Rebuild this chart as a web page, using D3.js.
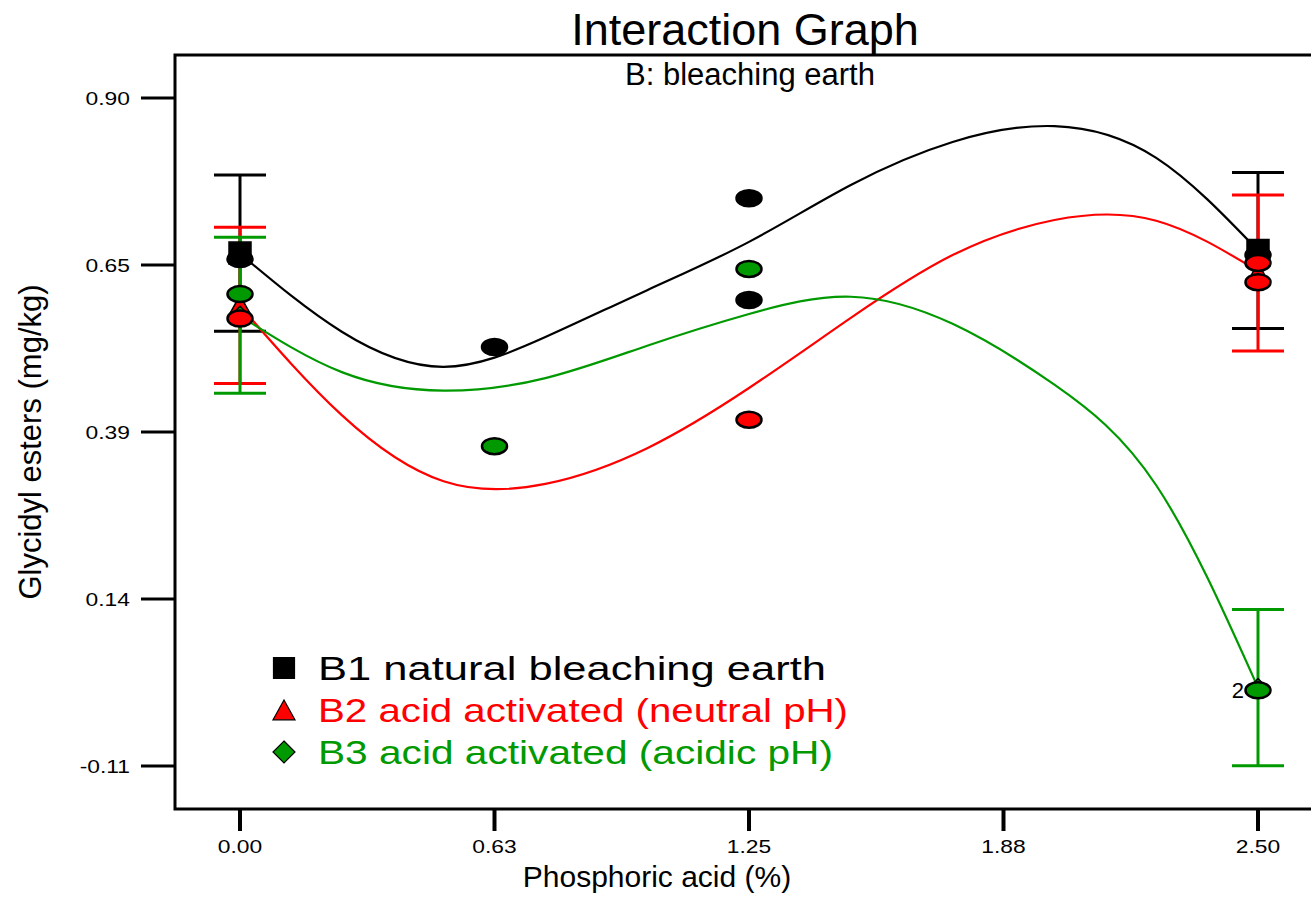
<!DOCTYPE html>
<html>
<head>
<meta charset="utf-8">
<script src="https://cdn.jsdelivr.net/npm/d3@7"></script>
<style>
  html, body { margin: 0; padding: 0; background: #fff; }
  svg { display: block; font-family: "Liberation Sans", Arial, sans-serif; }
</style>
</head>
<body>
<svg id="chart" width="1311" height="920"></svg>
<script>
// ---------- data ----------
const xTickValues = [0, 0.625, 1.25, 1.875, 2.5];
const xTickLabels = ["0.00", "0.63", "1.25", "1.88", "2.50"];
const yTickValues = [-0.1125, 0.14, 0.3925, 0.645, 0.8975];
const yTickLabels = ["-0.11", "0.14", "0.39", "0.65", "0.90"];

const seriesNames = ["B1 natural bleaching earth", "B2 acid activated (neutral pH)", "B3 acid activated (acidic pH)"];
const seriesColors = ["#000000", "#ff0000", "#009a00"];

// fitted model curves, read at these x positions
const curveX = [0, 0.25, 0.5, 0.75, 1.0, 1.25, 1.5, 1.75, 2.0, 2.25, 2.5];
const b1Curve = [0.662, 0.544, 0.491, 0.536, 0.607, 0.680, 0.766, 0.831, 0.855, 0.807, 0.667];
const b2Curve = [0.583, 0.418, 0.318, 0.314, 0.368, 0.459, 0.565, 0.660, 0.713, 0.712, 0.636];
const b3Curve = [0.568, 0.483, 0.455, 0.474, 0.523, 0.571, 0.597, 0.556, 0.464, 0.312, 0.006];

// predicted means with LSD bars
const meanX = [0, 2.5];
const b1Mean = [0.663, 0.667];
const b2Mean = [0.584, 0.633];
const b3Mean = [0.569, 0.006];
const lsdHalf = 0.118;

// design (actual) points
const b1PtsX = [0, 0.625, 1.25, 1.25, 2.5];
const b1PtsY = [0.654, 0.521, 0.746, 0.592, 0.660];
const b2PtsX = [0, 1.25, 2.5, 2.5];
const b2PtsY = [0.564, 0.411, 0.648, 0.619];
const b3PtsX = [0, 0.625, 1.25, 2.5];
const b3PtsY = [0.601, 0.371, 0.639, 0.002];
const pointCountLabels = [{ x: 2.5, y: 0.002, text: "2" }];

// ---------- layout ----------
const svg = d3.select("#chart");
const plot = { left: 175, right: 1325, top: 55, bottom: 809 };

const x = d3.scaleLinear().domain([0, 2.5]).range([240, 1258]);
const y = d3.scaleLinear().domain([-0.1125, 0.8975]).range([766, 98]);

const curves = [b1Curve, b2Curve, b3Curve];
const means = [b1Mean, b2Mean, b3Mean];
const ptsX = [b1PtsX, b2PtsX, b3PtsX];
const ptsY = [b1PtsY, b2PtsY, b3PtsY];

function stretch(sel, f) {
  sel.each(function () {
    const w = this.getComputedTextLength();
    d3.select(this).attr("textLength", w * f).attr("lengthAdjust", "spacingAndGlyphs");
  });
}

// frame
svg.append("rect")
  .attr("x", plot.left).attr("y", plot.top)
  .attr("width", plot.right - plot.left).attr("height", plot.bottom - plot.top)
  .attr("fill", "none").attr("stroke", "#000").attr("stroke-width", 3);

// y axis ticks
const gy = svg.append("g");
yTickValues.forEach((v, i) => {
  gy.append("line").attr("x1", plot.left - 34).attr("x2", plot.left).attr("y1", y(v)).attr("y2", y(v))
    .attr("stroke", "#000").attr("stroke-width", 3);
  gy.append("text").attr("x", plot.left - 45).attr("y", y(v) + 7).attr("text-anchor", "end")
    .attr("font-size", 19).text(yTickLabels[i]).call(stretch, 1.2);
});

// x axis ticks
const gx = svg.append("g");
xTickValues.forEach((v, i) => {
  gx.append("line").attr("x1", x(v)).attr("x2", x(v)).attr("y1", plot.bottom).attr("y2", plot.bottom + 22)
    .attr("stroke", "#000").attr("stroke-width", 4);
  gx.append("text").attr("x", x(v)).attr("y", plot.bottom + 44).attr("text-anchor", "middle")
    .attr("font-size", 19).text(xTickLabels[i]).call(stretch, 1.2);
});

// titles
svg.append("text").attr("x", 745).attr("y", 45).attr("text-anchor", "middle")
  .attr("font-size", 45).text("Interaction Graph");
svg.append("text").attr("x", 750).attr("y", 85).attr("text-anchor", "middle")
  .attr("font-size", 31).text("B: bleaching earth");
svg.append("text").attr("x", 657).attr("y", 887).attr("text-anchor", "middle")
  .attr("font-size", 30).text("Phosphoric acid (%)");
svg.append("text").attr("transform", "translate(41,442) rotate(-90)").attr("text-anchor", "middle")
  .attr("font-size", 31).text("Glycidyl esters (mg/kg)");

// LSD bars
const capHalf = 26;
means.forEach((m, s) => {
  const g = svg.append("g").attr("stroke", seriesColors[s]).attr("stroke-width", 3);
  meanX.forEach((xv, i) => {
    const cx = x(xv);
    g.append("line").attr("x1", cx).attr("x2", cx).attr("y1", y(m[i] + lsdHalf)).attr("y2", y(m[i] - lsdHalf));
    [m[i] + lsdHalf, m[i] - lsdHalf].forEach(v => {
      g.append("line").attr("x1", cx - capHalf).attr("x2", cx + capHalf).attr("y1", y(v)).attr("y2", y(v));
    });
  });
});

// fitted curves
const line = d3.line().x(d => x(d[0])).y(d => y(d[1])).curve(d3.curveNatural);
curves.forEach((c, s) => {
  svg.append("path").datum(curveX.map((xv, i) => [xv, c[i]]))
    .attr("d", line).attr("fill", "none").attr("stroke", seriesColors[s]).attr("stroke-width", 2.2);
});

// marker shapes
function markerPath(kind, size) {
  const h = size / 2;
  if (kind === 0) return `M${-h},${-h}H${h}V${h}H${-h}Z`;
  if (kind === 1) return `M0,${-h}L${h},${h * 0.8}L${-h},${h * 0.8}Z`;
  return `M0,${-h}L${h},0L0,${h}L${-h},0Z`;
}

// mean markers
const meanSizes = [22, 20, 18];
means.forEach((m, s) => {
  meanX.forEach((xv, i) => {
    svg.append("path")
      .attr("d", markerPath(s, meanSizes[s]))
      .attr("transform", `translate(${x(xv)},${y(m[i])})`)
      .attr("fill", seriesColors[s]).attr("stroke", "#000").attr("stroke-width", 1.5);
  });
});

// design points
ptsX.forEach((px, s) => {
  px.forEach((xv, i) => {
    svg.append("ellipse").attr("cx", x(xv)).attr("cy", y(ptsY[s][i]))
      .attr("rx", 12.5).attr("ry", 8)
      .attr("fill", seriesColors[s]).attr("stroke", "#000").attr("stroke-width", 2.5);
  });
});
pointCountLabels.forEach(d => {
  svg.append("text").attr("x", x(d.x) - 14).attr("y", y(d.y) + 8).attr("text-anchor", "end")
    .attr("font-size", 22).text(d.text);
});

// legend
const legendSizes = [21, 22, 22];
const legendW = [508, 530, 515];
seriesNames.forEach((name, i) => {
  const yy = 668 + i * 42;
  svg.append("path").attr("d", markerPath(i, legendSizes[i]))
    .attr("transform", `translate(284,${yy + (i === 1 ? 1 : 0)})`)
    .attr("fill", seriesColors[i]).attr("stroke", "#000").attr("stroke-width", 1.2);
  svg.append("text").attr("x", 318).attr("y", yy + 12).attr("font-size", 34)
    .attr("fill", seriesColors[i]).attr("textLength", legendW[i]).attr("lengthAdjust", "spacingAndGlyphs")
    .text(name);
});
</script>
</body>
</html>
